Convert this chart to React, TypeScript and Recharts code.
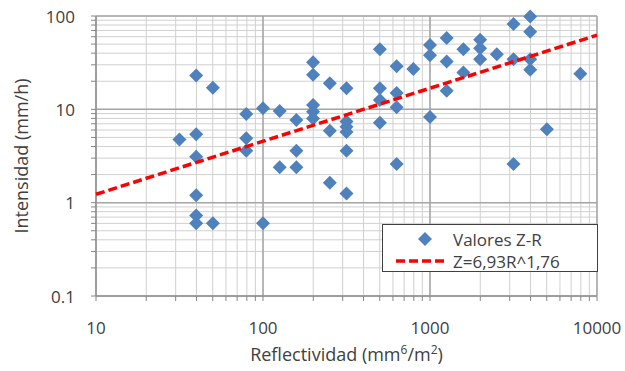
import React from "react";
import {
  ScatterChart,
  Scatter,
  XAxis,
  YAxis,
  CartesianGrid,
  ReferenceLine,
  Legend,
} from "recharts";

// measured pairs, Z (mm6/m3) vs R (mm/h)
const reflectividad = [
  31.6, 39.8, 39.8, 39.8, 39.8, 39.8, 39.8, 50.1, 50.1, 79.4, 79.4, 79.4,
  100, 100, 125.9, 125.9, 158.5, 158.5, 158.5, 199.5, 199.5, 199.5, 199.5,
  199.5, 251.2, 251.2, 251.2, 316.2, 316.2, 316.2, 316.2, 316.2, 316.2,
  501.2, 501.2, 501.2, 501.2, 631, 631, 631, 631, 794.3, 1000, 1000, 1000,
  1258.9, 1258.9, 1258.9, 1584.9, 1584.9, 1995.3, 1995.3, 1995.3, 2511.9,
  3162.3, 3162.3, 3162.3, 3981, 3981, 3981, 3981, 5011.9, 7943,
];
const intensidad = [
  4.75, 23, 5.4, 3.1, 1.2, 0.73, 0.6, 17, 0.6, 8.9, 4.9, 3.6,
  10.3, 0.6, 9.6, 2.4, 7.7, 3.6, 2.4, 32, 23.4, 11.1, 9.4,
  8.0, 19, 5.9, 1.63, 16.8, 7.4, 6.5, 5.7, 3.6, 1.25,
  44, 16.8, 12.6, 7.2, 29, 15, 10.5, 2.6, 27, 49, 38, 8.3,
  58, 32.5, 15.8, 44, 24.8, 55.6, 45, 34.5, 39,
  82, 34.5, 2.6, 99, 68, 34.5, 26.5, 6.1, 24,
];

// power-law fit, ends of the line
const ajusteZ = [10, 10000];
const ajusteR = [1.23, 62.3];

const xTicks = [
  10, 20, 30, 40, 50, 60, 70, 80, 90, 100, 200, 300, 400, 500, 600, 700, 800,
  900, 1000, 2000, 3000, 4000, 5000, 6000, 7000, 8000, 9000, 10000,
];
const yTicks = [
  0.1, 0.2, 0.3, 0.4, 0.5, 0.6, 0.7, 0.8, 0.9, 1, 2, 3, 4, 5, 6, 7, 8, 9, 10,
  20, 30, 40, 50, 60, 70, 80, 90, 100,
];
const xMajor = [10, 100, 1000, 10000];
const yMajor = [0.1, 1, 10, 100];

const puntos = reflectividad.map((z, i) => ({ z, r: intensidad[i] }));
const ajuste = ajusteZ.map((z, i) => ({ z, r: ajusteR[i] }));

const FONT = "'Open Sans', 'Noto Sans', sans-serif";
const TEXT = "#404040";
const BLUE = "#4F81BD";

const Diamond = (props) => {
  const { cx, cy } = props;
  if (cx == null || cy == null) return <g />;
  const s = 7;
  return (
    <path
      d={`M${cx},${cy - s}L${cx + s},${cy}L${cx},${cy + s}L${cx - s},${cy}Z`}
      fill={BLUE}
    />
  );
};

const XTick = ({ x, y, payload }) => {
  if (!xMajor.includes(payload.value)) return <g />;
  return (
    <text x={x} y={y + 24} textAnchor="middle" dominantBaseline="central"
      fontFamily={FONT} fontSize={17} fill={TEXT}>
      {payload.value}
    </text>
  );
};

const YTick = ({ x, y, payload }) => {
  if (!yMajor.includes(payload.value)) return <g />;
  return (
    <text x={x - 14} y={y} textAnchor="end" dominantBaseline="central"
      fontFamily={FONT} fontSize={17} fill={TEXT}>
      {payload.value}
    </text>
  );
};

const XTitle = ({ viewBox }) => {
  const cx = viewBox.x + viewBox.width / 2;
  return (
    <text x={cx} y={viewBox.y + 65} textAnchor="middle" fontFamily={FONT}
      fontSize={18} fill={TEXT}>
      Reflectividad (mm
      <tspan dy={-7} fontSize={12}>6</tspan>
      <tspan dy={7}>/m</tspan>
      <tspan dy={-7} fontSize={12}>2</tspan>
      <tspan dy={7}>)</tspan>
    </text>
  );
};

const YTitle = ({ viewBox }) => {
  const x = viewBox.x + 21;
  const y = viewBox.y + viewBox.height / 2;
  return (
    <text x={x} y={y} transform={`rotate(-90 ${x} ${y})`} textAnchor="middle"
      dominantBaseline="central" fontFamily={FONT} fontSize={18} fill={TEXT}>
      Intensidad (mm/h)
    </text>
  );
};

const Leyenda = () => (
  <div
    style={{
      width: 214,
      height: 46,
      border: "1px solid #404040",
      background: "#fff",
    }}
  >
    <svg width={214} height={46} style={{ display: "block" }}>
      <path d="M42,7L49,14L42,21L35,14Z" fill={BLUE} />
      <text x={70} y={14} dominantBaseline="central" fill={TEXT}
        fontFamily={FONT} fontSize={17}>Valores Z-R</text>
      <line x1={13} y1={36} x2={65} y2={36} stroke="#FF0000" strokeWidth={3.5}
        strokeDasharray="9 4" />
      <text x={70} y={36} dominantBaseline="central" fill={TEXT}
        fontFamily={FONT} fontSize={17}>Z=6,93R^1,76</text>
    </svg>
  </div>
);

export default function App() {
  return (
    <div style={{ position: "absolute", left: 0, top: 0, background: "#fff" }}>
      <ScatterChart
        width={625}
        height={371}
        margin={{ top: 16, right: 28, bottom: 0, left: 0 }}
      >
        <CartesianGrid stroke="#d0d0d0" strokeWidth={1} />
        {xMajor.map((v) => (
          <ReferenceLine key={`x${v}`} x={v} stroke="#a6a6a6" strokeWidth={1.5} />
        ))}
        {yMajor.map((v) => (
          <ReferenceLine key={`y${v}`} y={v} stroke="#a6a6a6" strokeWidth={1.5} />
        ))}
        <XAxis
          dataKey="z"
          type="number"
          scale="log"
          domain={[10, 10000]}
          ticks={xTicks}
          interval={0}
          height={75}
          stroke="#868686"
          tickSize={5}
          tick={<XTick />}
          label={<XTitle />}
        />
        <YAxis
          dataKey="r"
          type="number"
          scale="log"
          domain={[0.1, 100]}
          ticks={yTicks}
          interval={0}
          width={96}
          stroke="#868686"
          tickSize={5}
          tick={<YTick />}
          label={<YTitle />}
        />
        <Scatter
          name="Valores Z-R"
          data={puntos}
          shape={<Diamond />}
          isAnimationActive={false}
        />
        <Scatter
          name="Z=6,93R^1,76"
          data={ajuste}
          line={{ stroke: "#FF0000", strokeWidth: 3.5, strokeDasharray: "9 4" }}
          shape={() => <g />}
          isAnimationActive={false}
        />
        <Legend
          layout="vertical"
          align="center"
          verticalAlign="middle"
          content={<Leyenda />}
          wrapperStyle={{ left: 382, top: 224, width: 216, height: 48 }}
        />
      </ScatterChart>
    </div>
  );
}
